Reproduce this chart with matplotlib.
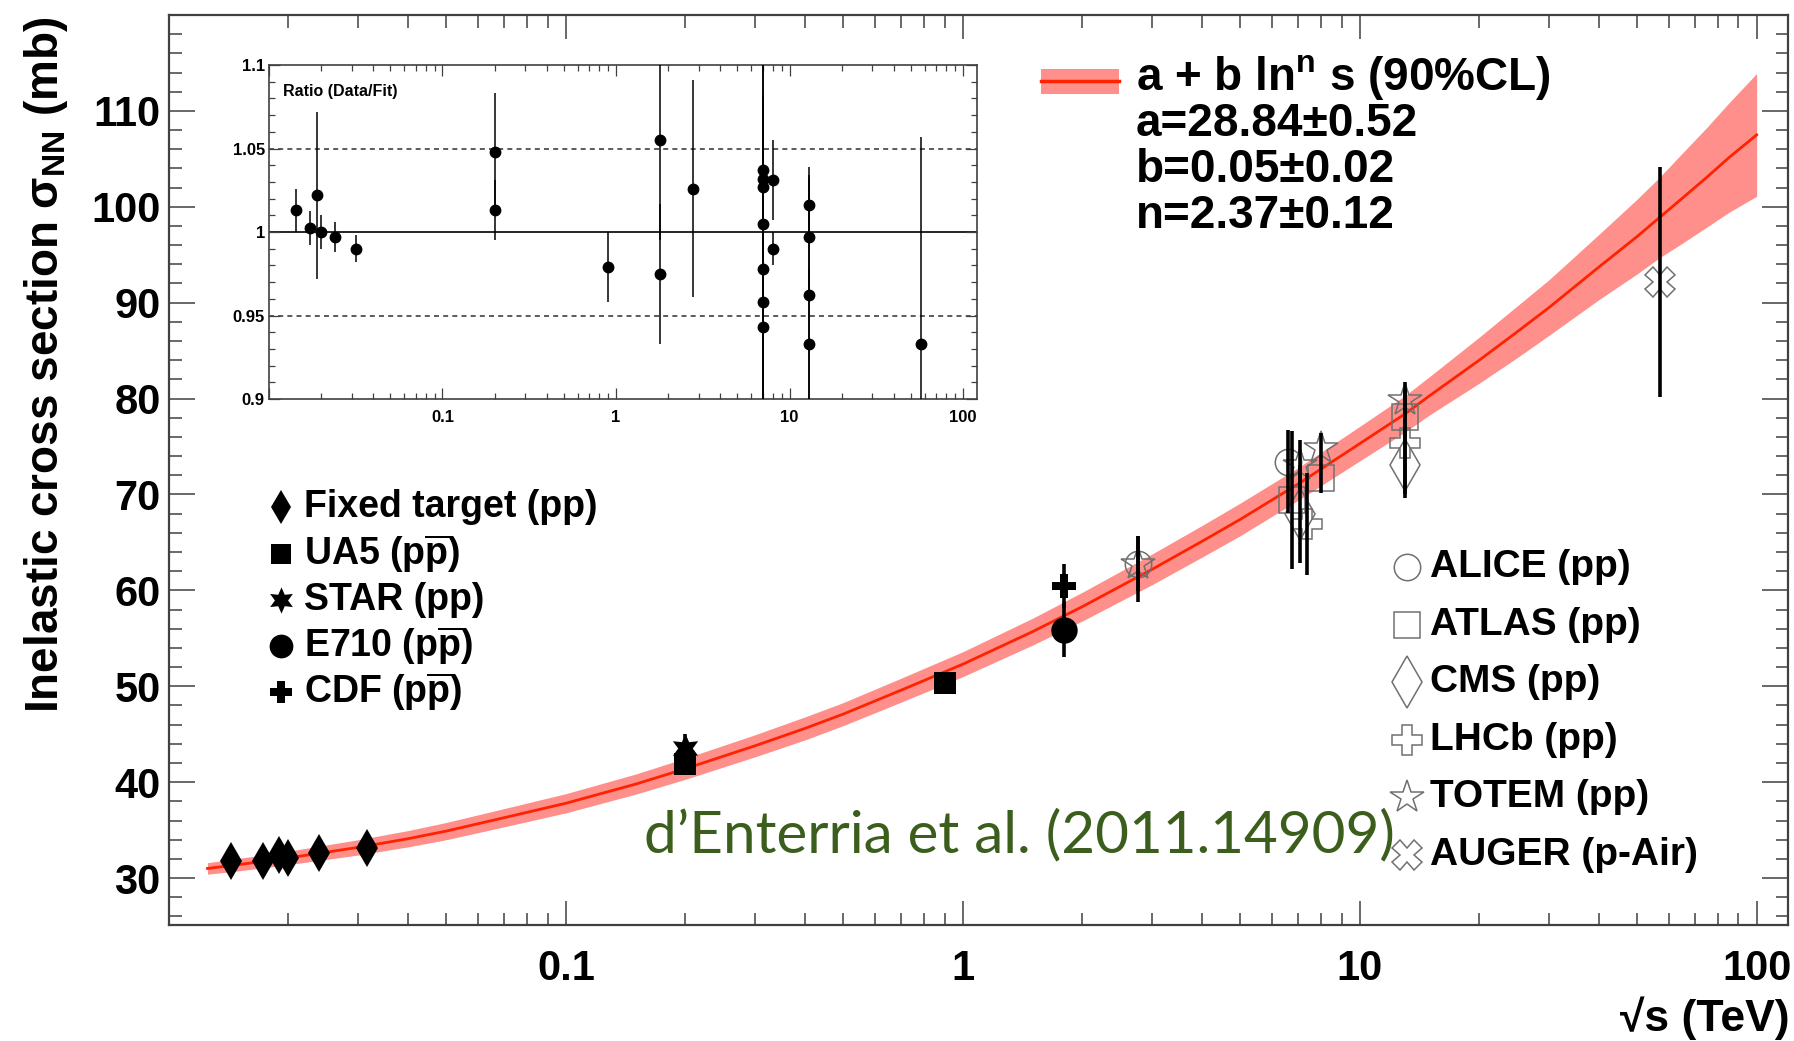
"""Inelastic nucleon-nucleon cross section versus collision energy, with a ratio inset."""

import matplotlib

matplotlib.use("Agg")

import matplotlib.pyplot as plt
from matplotlib.patches import Rectangle
from matplotlib.ticker import (
	FixedFormatter,
	FixedLocator,
	LogLocator,
	MultipleLocator,
	NullFormatter,
)

# fit a + b ln^n s, central curve and half width of the 90% CL band (sqrt(s) in TeV, mb)
fit_sqrt_s = [0.0125, 0.015, 0.02, 0.03, 0.04, 0.05, 0.07, 0.1, 0.15, 0.2, 0.3, 0.4, 0.5, 0.7,
	1.0, 1.5, 2.0, 3.0, 4.0, 5.0, 7.0, 10.0, 13.0, 15.0, 20.0, 25.0, 30.0, 40.0, 50.0, 57.0,
	65.0, 75.0, 85.0, 100.0]
fit_sigma = [31.0, 31.4, 32.1, 33.2, 34.1, 34.9, 36.3, 37.8, 39.8, 41.4, 43.8, 45.6, 47.1, 49.6,
	52.3, 55.7, 58.3, 62.2, 65.1, 67.4, 71.1, 75.3, 78.4, 80.3, 84.0, 87.0, 89.5, 93.7, 96.9, 98.9,
	100.9, 103.1, 105.1, 107.5]
fit_band = [0.6, 0.65, 0.7, 0.8, 0.85, 0.9, 0.95, 1.0, 1.05, 1.1, 1.15, 1.2, 1.2, 1.25,
	1.3, 1.4, 1.5, 1.6, 1.65, 1.7, 1.7, 1.8, 1.9, 2.0, 2.4, 2.7, 2.9, 3.4, 3.9, 4.2,
	4.7, 5.2, 5.7, 6.4]

# measurements: sqrt(s) (TeV), sigma_inel (mb), error down, error up
fixed_sqrt_s = [0.0143, 0.0173, 0.0189, 0.0199, 0.0239, 0.0316]
fixed_sigma = [31.8, 31.8, 32.4, 32.1, 32.6, 33.1]
fixed_err = [0.4, 0.3, 0.9, 0.3, 0.3, 0.3]

ua5_sqrt_s = [0.2, 0.9]
ua5_sigma = [41.9, 50.3]
ua5_err = [0.7, 1.1]

star_sqrt_s = [0.2]
star_sigma = [43.6]
star_err = [1.4]

e710_sqrt_s = [1.8]
e710_sigma = [55.9]
e710_err = [2.9]

cdf_sqrt_s = [1.8]
cdf_sigma = [60.5]
cdf_err = [2.3]

alice_sqrt_s = [2.76, 6.6]
alice_sigma = [62.8, 73.4]
alice_err_lo = [4.0, 5.3]
alice_err_hi = [2.9, 3.3]

atlas_sqrt_s = [6.74, 8.0, 13.0]
atlas_sigma = [69.4, 71.7, 78.1]
atlas_err = [7.2, 1.5, 2.9]

cms_sqrt_s = [7.06, 13.0]
cms_sigma = [68.0, 73.1]
cms_err = [5.1, 3.5]

lhcb_sqrt_s = [7.35, 13.0]
lhcb_sigma = [66.9, 75.4]
lhcb_err = [5.3, 5.4]

totem_sqrt_s = [2.76, 7.06, 8.0, 13.0]
totem_sigma = [62.8, 73.1, 74.8, 79.9]
totem_err = [2.9, 2.6, 1.6, 1.8]

auger_sqrt_s = [57.0]
auger_sigma = [92.2]
auger_err = [12.0]

# inset: data / fit
ratio_sqrt_s = [0.0143, 0.0173, 0.0189, 0.0199, 0.0239, 0.0316, 0.2, 0.2, 0.9, 1.8, 1.8, 2.76,
	7.0, 7.0, 7.0, 7.0, 7.0, 7.0, 7.0, 8.0, 8.0, 13.0, 13.0, 13.0, 13.0, 57.0]
ratio_value = [1.013, 1.0025, 1.022, 1.000, 0.997, 0.990, 1.048, 1.013, 0.979, 1.055, 0.975, 1.026,
	1.037, 1.032, 1.027, 1.005, 0.978, 0.958, 0.943, 1.031, 0.990, 1.016, 0.997, 0.962, 0.933, 0.933]
ratio_err = [0.013, 0.010, 0.050, 0.010, 0.009, 0.008, 0.035, 0.018, 0.021, 0.060, 0.042, 0.065,
	0.045, 0.020, 0.075, 0.110, 0.100, 0.070, 0.075, 0.024, 0.010, 0.023, 0.037, 0.070, 0.045, 0.124]

left_labels = [
	"Fixed target (pp)",
	r"UA5 (p$\overline{\mathrm{p}}$)",
	"STAR (pp)",
	r"E710 (p$\overline{\mathrm{p}}$)",
	r"CDF (p$\overline{\mathrm{p}}$)",
]
right_labels = ["ALICE (pp)", "ATLAS (pp)", "CMS (pp)", "LHCb (pp)", "TOTEM (pp)", "AUGER (p-Air)"]
fit_lines = [r"a + b ln$^{n}$ s (90%CL)", "a=28.84±0.52", "b=0.05±0.02", "n=2.37±0.12"]

BAND = "#ff8f8a"
LINE = "#ff2200"
OPEN = "#707070"
FRAME = "#404040"

plt.rcParams["font.family"] = ["Liberation Sans", "DejaVu Sans"]
plt.rcParams["font.weight"] = "bold"
plt.rcParams["mathtext.fontset"] = "custom"
plt.rcParams["mathtext.rm"] = "Liberation Sans:bold"
plt.rcParams["mathtext.it"] = "Liberation Sans:bold"
plt.rcParams["mathtext.bf"] = "Liberation Sans:bold"


def style_frame(axis, lw):
	for spine in axis.spines.values():
		spine.set_color(FRAME)
		spine.set_linewidth(lw)


def log_x_ticks(axis, labelsize, pad, major_len, minor_len):
	axis.set_xscale("log")
	axis.xaxis.set_major_locator(FixedLocator([0.01, 0.1, 1, 10, 100]))
	axis.xaxis.set_major_formatter(FixedFormatter(["", "0.1", "1", "10", "100"]))
	axis.xaxis.set_minor_locator(LogLocator(base=10, subs=range(2, 10), numticks=30))
	axis.xaxis.set_minor_formatter(NullFormatter())
	axis.tick_params(axis="x", which="major", length=major_len, labelsize=labelsize, pad=pad)
	axis.tick_params(axis="x", which="minor", length=minor_len)


fig = plt.figure(figsize=(17.94, 10.41), dpi=100)
ax = fig.add_axes([0.0942, 0.1114, 0.9025, 0.8742])

# fit band and curve
band_lo = [s - h for s, h in zip(fit_sigma, fit_band)]
band_hi = [s + h for s, h in zip(fit_sigma, fit_band)]
ax.fill_between(fit_sqrt_s, band_lo, band_hi, color=BAND, lw=0, zorder=1)
ax.plot(fit_sqrt_s, fit_sigma, color=LINE, lw=2.0, zorder=2)

# measurements
filled = [
	(fixed_sqrt_s, fixed_sigma, fixed_err, fixed_err, "d", 19),
	(ua5_sqrt_s, ua5_sigma, ua5_err, ua5_err, "s", 16),
	(star_sqrt_s, star_sigma, star_err, star_err, (6, 1, 0), 21),
	(e710_sqrt_s, e710_sigma, e710_err, e710_err, "o", 19),
	(cdf_sqrt_s, cdf_sigma, cdf_err, cdf_err, "P", 17),
]
hollow = [
	(alice_sqrt_s, alice_sigma, alice_err_lo, alice_err_hi, "o", 19),
	(atlas_sqrt_s, atlas_sigma, atlas_err, atlas_err, "s", 19),
	(cms_sqrt_s, cms_sigma, cms_err, cms_err, "d", 26),
	(lhcb_sqrt_s, lhcb_sigma, lhcb_err, lhcb_err, "P", 22),
	(totem_sqrt_s, totem_sigma, totem_err, totem_err, "*", 25),
	(auger_sqrt_s, auger_sigma, auger_err, auger_err, "X", 21),
]
for xs, ys, lo, hi, marker, size in hollow:
	ax.errorbar(xs, ys, yerr=[lo, hi], fmt="none", ecolor="black", elinewidth=2.6, capsize=0, zorder=4)
	ax.plot(xs, ys, ls="none", marker=marker, ms=size, mfc="none", mec=OPEN, mew=1.1, zorder=3)
for xs, ys, lo, hi, marker, size in filled:
	ax.errorbar(xs, ys, yerr=[lo, hi], fmt="none", ecolor="black", elinewidth=2.6, capsize=0, zorder=4)
	ax.plot(xs, ys, ls="none", marker=marker, ms=size, color="black", mew=0, zorder=5)

ax.set_xlim(0.01, 120)
ax.set_ylim(25.1, 120.0)
log_x_ticks(ax, labelsize=30, pad=17, major_len=17, minor_len=9)
ax.yaxis.set_major_locator(FixedLocator(list(range(30, 111, 10))))
ax.yaxis.set_minor_locator(MultipleLocator(2))
ax.tick_params(axis="y", which="major", length=19, labelsize=30, pad=6)
ax.tick_params(axis="y", which="minor", length=9)
ax.tick_params(which="both", direction="in", top=True, right=True, color=FRAME, width=1.1)
style_frame(ax, 1.6)

ax.text(-0.076, 0.998, r"Inelastic cross section σ$_{\mathrm{NN}}$ (mb)", transform=ax.transAxes,
	rotation=90, ha="center", va="top", fontsize=33)
ax.text(1.0012, -0.102, "√s (TeV)", transform=ax.transAxes, ha="right", va="center", fontsize=32)

# legend, left block
for i, ((_, _, _, _, marker, size), label) in enumerate(zip(filled, left_labels)):
	ypos = 0.459 - i * 0.0508
	ax.plot([0.0692], [ypos], transform=ax.transAxes, marker=marker, ms=size * 0.9, color="black",
		mew=0, clip_on=False, ls="none")
	ax.text(0.0834, ypos, label, transform=ax.transAxes, ha="left", va="center", fontsize=27)

# legend, right block
for i, ((_, _, _, _, marker, size), label) in enumerate(zip(hollow, right_labels)):
	ypos = 0.3934 - i * 0.0633
	ax.plot([0.7647], [ypos], transform=ax.transAxes, marker=marker, ms=size, mfc="none", mec=OPEN,
		mew=1.1, clip_on=False, ls="none")
	ax.text(0.7789, ypos, label, transform=ax.transAxes, ha="left", va="center", fontsize=28)

# fit legend
ax.add_patch(Rectangle((0.5386, 0.9132), 0.0482, 0.0275, transform=ax.transAxes, color=BAND, lw=0))
ax.plot([0.5386, 0.5868], [0.9275, 0.9275], transform=ax.transAxes, color=LINE, lw=2.5)
for i, line in enumerate(fit_lines):
	ax.text(0.5973, 0.9308 - i * 0.0506, line, transform=ax.transAxes, ha="left", va="center", fontsize=33)

ax.text(0.2934, 0.080, "d’Enterria et al. (2011.14909)", transform=ax.transAxes, ha="left",
	va="baseline", fontsize=42, fontweight="normal", family="Lato", color="#3b5e1d")

# ratio inset
ins = fig.add_axes([0.1499, 0.6167, 0.3946, 0.3208])
ins.axhline(1.0, color="black", lw=1.2, zorder=1)
for level in (0.95, 1.05):
	ins.axhline(level, color=FRAME, lw=1.2, ls=(0, (3, 2.5)), zorder=1)
ins.errorbar(ratio_sqrt_s, ratio_value, yerr=ratio_err, fmt="o", color="black", ms=7.5,
	elinewidth=1.1, capsize=0, zorder=3)
ins.set_xlim(0.01, 120)
ins.set_ylim(0.9, 1.1)
log_x_ticks(ins, labelsize=12, pad=8, major_len=8, minor_len=4)
ins.yaxis.set_major_locator(FixedLocator([0.9, 0.95, 1.0, 1.05, 1.1]))
ins.yaxis.set_major_formatter(FixedFormatter(["0.9", "0.95", "1", "1.05", "1.1"]))
ins.yaxis.set_minor_locator(MultipleLocator(0.01))
ins.tick_params(axis="y", which="major", length=8, labelsize=12, pad=3)
ins.tick_params(axis="y", which="minor", length=4)
ins.tick_params(which="both", direction="in", top=True, right=True, color=FRAME, width=0.9)
style_frame(ins, 1.2)
ins.text(0.02, 0.92, "Ratio (Data/Fit)", transform=ins.transAxes, ha="left", va="center", fontsize=11.5)

fig.savefig("out.png", dpi=100)
